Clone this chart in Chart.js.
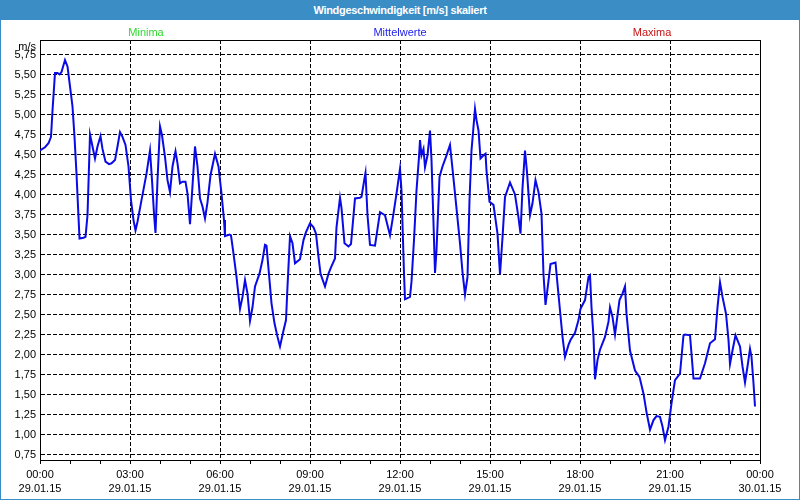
<!DOCTYPE html>
<html>
<head>
<meta charset="utf-8">
<script src="https://cdn.jsdelivr.net/npm/chart.js@4.4.1/dist/chart.umd.min.js"></script>
<style>
    html, body { margin: 0; padding: 0; background: #fff; }
    #frame { position: relative; width: 800px; height: 500px; overflow: hidden; font-family: "Liberation Sans", Arial, sans-serif; }
    #chart { position: absolute; left: 0; top: 0; }
    #titlebar {
        position: absolute; left: 0; top: 0; width: 800px; height: 20px;
        background: #3b8dc6; color: #fff; font-weight: bold; font-size: 11px;
        letter-spacing: -0.3px; line-height: 20px; text-align: center;
    }
    #border { position: absolute; left: 0; top: 0; width: 798px; height: 499px; border: 1px solid #3b8dc6; border-top: none; pointer-events: none; }
    .lbl { position: absolute; top: 25px; font-size: 11px; line-height: 14px; transform: translateX(-50%); white-space: nowrap; }
    #unit { position: absolute; top: 39px; right: 764px; font-size: 11px; line-height: 14px; }
</style>
</head>
<body>
<div id="frame">
    <canvas id="chart" width="800" height="500"></canvas>
    <div id="titlebar">Windgeschwindigkeit [m/s] skaliert</div>
    <span class="lbl" style="left:146px;color:#30d830">Minima</span>
    <span class="lbl" style="left:400px;color:#2020e8">Mittelwerte</span>
    <span class="lbl" style="left:652px;color:#c81010">Maxima</span>
    <span id="unit">m/s</span>
    <div id="border"></div>
</div>
<script>
// minutes since 29.01.15 00:00
const minutes = [
    0, 10, 17, 22, 25, 30, 35, 39, 43, 50, 55, 60, 65, 69, 73, 79, 87, 91, 95, 100,
    105, 110, 115, 121, 125, 131, 138, 143, 150, 155, 160, 165, 171, 177, 182, 187, 191, 195, 203, 213,
    220, 224, 228, 231, 235, 240, 244, 250, 255, 260, 265, 271, 275, 280, 285, 291, 295, 300, 304, 310,
    315, 320, 325, 330, 335, 341, 350, 357, 363, 368, 370, 379, 382, 387, 393, 400, 405, 410, 415, 420,
    425, 430, 439, 445, 450, 453, 459, 463, 469, 475, 480, 487, 492, 495, 500, 505, 510, 520, 527, 532,
    540, 547, 552, 557, 561, 570, 577, 582, 590, 593, 600, 603, 609, 617, 622, 630, 640, 643, 649, 651,
    655, 660, 670, 680, 690, 700, 707, 713, 720, 723, 728, 730, 740, 743, 748, 753, 758, 760, 763, 767,
    770, 775, 780, 783, 787, 790, 793, 799, 805, 812, 820, 825, 832, 840, 845, 850, 855, 859, 863, 870,
    873, 877, 881, 887, 891, 893, 899, 907, 915, 920, 925, 930, 940, 950, 957, 961, 965, 970, 974, 980,
    985, 991, 997, 1003, 1007, 1011, 1016, 1021, 1031, 1035, 1040, 1045, 1050, 1057, 1061, 1070, 1077, 1081, 1090, 1097,
    1100, 1103, 1107, 1110, 1115, 1120, 1130, 1137, 1140, 1145, 1150, 1159, 1165, 1170, 1173, 1180, 1190, 1199, 1207, 1213,
    1220, 1227, 1233, 1240, 1245, 1250, 1257, 1263, 1270, 1280, 1287, 1290, 1300, 1307, 1320, 1330, 1340, 1350, 1355, 1360,
    1365, 1372, 1377, 1380, 1385, 1391, 1400, 1405, 1410, 1415, 1420, 1423, 1427, 1430
];

// Mittelwerte in m/s
const speeds = [
    4.55, 4.59, 4.64, 4.72, 5.05, 5.52, 5.52, 5.50, 5.53, 5.68, 5.60, 5.35, 5.10, 4.72, 4.26, 3.45, 3.46, 3.47, 3.74, 4.75,
    4.60, 4.45, 4.60, 4.73, 4.57, 4.41, 4.38, 4.39, 4.43, 4.60, 4.78, 4.72, 4.62, 4.35, 3.93, 3.68, 3.55, 3.66, 3.93, 4.26,
    4.55, 4.18, 3.76, 3.52, 4.18, 4.85, 4.74, 4.47, 4.18, 4.03, 4.35, 4.54, 4.39, 4.14, 4.16, 4.16, 4.01, 3.63, 4.01, 4.60,
    4.35, 3.95, 3.85, 3.70, 3.90, 4.24, 4.51, 4.35, 4.01, 3.68, 3.48, 3.50, 3.49, 3.26, 2.97, 2.57, 2.72, 2.93, 2.76, 2.42,
    2.59, 2.85, 3.01, 3.18, 3.37, 3.36, 2.93, 2.64, 2.39, 2.22, 2.10, 2.30, 2.43, 2.85, 3.48, 3.39, 3.14, 3.19, 3.43, 3.53,
    3.64, 3.59, 3.51, 3.22, 3.01, 2.85, 3.01, 3.09, 3.20, 3.59, 3.96, 3.83, 3.39, 3.35, 3.38, 3.95, 3.96, 3.97, 4.20, 4.27,
    3.74, 3.37, 3.36, 3.78, 3.74, 3.49, 3.76, 4.01, 4.32, 4.05, 3.01, 2.69, 2.72, 2.91, 3.43, 4.05, 4.47, 4.68, 4.49, 4.57,
    4.34, 4.49, 4.80, 4.43, 3.64, 3.02, 3.30, 4.22, 4.35, 4.47, 4.62, 4.32, 3.89, 3.39, 3.03, 2.75, 2.97, 3.93, 4.55, 5.07,
    4.93, 4.80, 4.45, 4.49, 4.51, 4.30, 3.91, 3.87, 3.51, 3.00, 3.46, 3.97, 4.15, 4.00, 3.71, 3.51, 4.08, 4.55, 4.28, 3.74,
    3.89, 4.18, 4.03, 3.76, 3.00, 2.62, 2.87, 3.13, 3.15, 2.88, 2.55, 2.22, 1.97, 2.12, 2.18, 2.27, 2.43, 2.57, 2.68, 2.97,
    2.99, 2.59, 2.22, 1.69, 1.93, 2.06, 2.22, 2.41, 2.59, 2.47, 2.25, 2.68, 2.76, 2.85, 2.51, 2.05, 1.80, 1.72, 1.51, 1.28,
    1.06, 1.18, 1.23, 1.22, 1.10, 0.93, 1.10, 1.39, 1.68, 1.76, 2.24, 2.25, 2.24, 1.70, 1.70, 1.89, 2.14, 2.19, 2.59, 2.90,
    2.72, 2.51, 2.18, 1.88, 2.05, 2.24, 2.10, 1.85, 1.65, 1.85, 2.07, 1.97, 1.64, 1.35
];

const yTicks = [0.75, 1.00, 1.25, 1.50, 1.75, 2.00, 2.25, 2.50, 2.75, 3.00, 3.25, 3.50, 3.75, 4.00, 4.25, 4.50, 4.75, 5.00, 5.25, 5.50, 5.75];
const xTicks = [0, 180, 360, 540, 720, 900, 1080, 1260, 1440];
const xTimeLabels = ['00:00', '03:00', '06:00', '09:00', '12:00', '15:00', '18:00', '21:00', '00:00'];
const xDateLabels = ['29.01.15', '29.01.15', '29.01.15', '29.01.15', '29.01.15', '29.01.15', '29.01.15', '29.01.15', '30.01.15'];

const FONT = { family: '"Liberation Sans", Arial, sans-serif', size: 11 };

// solid frame round the plot area
const plotBox = {
    id: 'plotBox',
    beforeDatasetsDraw(chart) {
        const { ctx, chartArea: a } = chart;
        ctx.save();
        ctx.strokeStyle = '#000';
        ctx.lineWidth = 1;
        ctx.strokeRect(Math.round(a.left) + 0.5, Math.round(a.top) + 0.5,
            Math.round(a.right - a.left), Math.round(a.bottom - a.top));
        ctx.restore();
    }
};

const chart = new Chart(document.getElementById('chart'), {
    type: 'line',
    data: {
        datasets: [{
            label: 'Mittelwerte',
            data: minutes.map((m, i) => ({ x: m, y: speeds[i] })),
            borderColor: '#0a0ae6',
            borderWidth: 2,
            pointRadius: 0,
            tension: 0,
            fill: false
        }]
    },
    options: {
        responsive: false,
        animation: false,
        layout: { padding: { top: 40, right: 40, left: 0, bottom: 0 } },
        plugins: {
            legend: { display: false },
            title: { display: false },
            tooltip: { enabled: false }
        },
        scales: {
            x: {
                type: 'linear',
                min: 0,
                max: 1440,
                afterBuildTicks: (axis) => {
                    const ticks = [];
                    for (let m = 0; m <= 1440; m += 60) ticks.push({ value: m });
                    axis.ticks = ticks;
                },
                afterFit: (axis) => { axis.height = 40; },
                ticks: {
                    autoSkip: false,
                    maxRotation: 0,
                    padding: 3,
                    color: '#000',
                    font: { ...FONT, lineHeight: 1.36 },
                    callback: (value) => {
                        const i = xTicks.indexOf(value);
                        return i >= 0 ? [xTimeLabels[i], xDateLabels[i]] : '';
                    }
                },
                grid: {
                    color: (ctx) => (ctx.tick && ctx.tick.value % 180 === 0) ? '#000' : 'rgba(0,0,0,0)',
                    tickColor: '#000',
                    tickLength: 4,
                    lineWidth: 1
                },
                border: { display: true, color: '#000', width: 1, dash: [4, 2] }
            },
            y: {
                type: 'linear',
                min: 0.681,
                max: 5.931,
                afterBuildTicks: (axis) => { axis.ticks = yTicks.map(v => ({ value: v })); },
                afterFit: (axis) => { axis.width = 40; },
                ticks: {
                    padding: 4,
                    color: '#000',
                    font: FONT,
                    callback: (value) => value.toFixed(2).replace('.', ',')
                },
                grid: {
                    color: '#000',
                    drawTicks: false,
                    lineWidth: 1
                },
                border: { display: true, color: '#000', width: 1, dash: [4, 2] }
            }
        }
    },
    plugins: [plotBox]
});
</script>
</body>
</html>
